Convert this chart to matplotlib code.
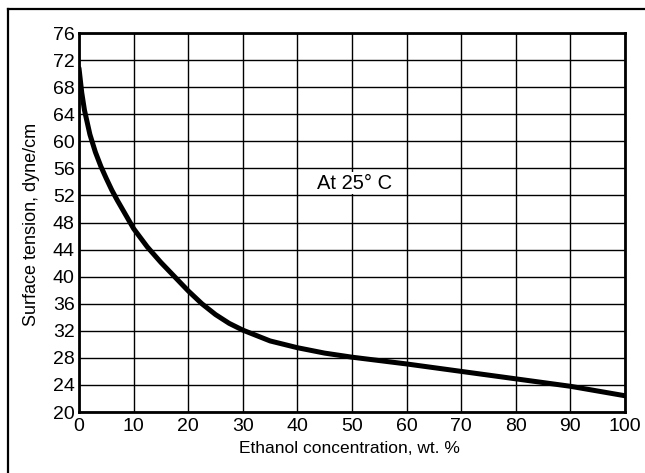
import matplotlib
matplotlib.use("Agg")
import matplotlib.pyplot as plt
from matplotlib.lines import Line2D

# Data
ethanol_wt = [0, 0.5, 1, 2, 3, 4, 5, 6, 7, 8, 10, 12.5, 15, 17.5, 20, 22.5, 25, 27.5,
              30, 35, 40, 45, 50, 60, 70, 80, 90, 100]
surface_tension = [70.8, 67.2, 64.6, 61.0, 58.4, 56.3, 54.5, 52.8, 51.3, 49.9, 47.1, 44.4,
                   42.1, 40.0, 37.9, 36.0, 34.4, 33.1, 32.1, 30.5, 29.5, 28.7, 28.1,
                   27.1, 26.0, 24.9, 23.8, 22.4]
x_ticks = list(range(0, 101, 10))
y_ticks = list(range(20, 77, 4))
annotation = "At 25° C"

plt.rcParams['font.family'] = ['Liberation Sans', 'DejaVu Sans']

fig = plt.figure(figsize=(6.45, 4.73), dpi=100)
ax = fig.add_axes([79/645, 1-412/473, (625-79)/645, (412-33)/473])

ax.set_xlim(0, 100)
ax.set_ylim(20, 76)
ax.set_xticks(x_ticks)
ax.set_yticks(y_ticks)
ax.grid(True, color='black', linewidth=1.0)
ax.set_axisbelow(True)
ax.tick_params(length=0, labelsize=14, pad=3)
ax.tick_params(axis='x', pad=4)
for s in ax.spines.values():
    s.set_linewidth(2.0)
    s.set_color('black')

ax.plot(ethanol_wt, surface_tension, color='black', linewidth=3.6,
        solid_capstyle='round', solid_joinstyle='round', zorder=3)

ax.text(50.4, 53.8, annotation, fontsize=14.5, ha='center', va='center',
        bbox=dict(facecolor='white', edgecolor='none', pad=1.0), zorder=4)

ax.set_xlabel("Ethanol concentration, wt. %", fontsize=12.5)
ax.set_ylabel("Surface tension, dyne/cm", fontsize=13)
ax.xaxis.set_label_coords(0.495, -0.076)
ax.yaxis.set_label_coords(-0.072, 0.495)

# Outer frame (top and left edges, as in the scan)
fig.add_artist(Line2D([8/645, 1.0], [1-9/473, 1-9/473], transform=fig.transFigure,
                      color='black', linewidth=1.6))
fig.add_artist(Line2D([8/645, 8/645], [0, 1-9/473], transform=fig.transFigure,
                      color='black', linewidth=1.6))

fig.savefig("out.png", dpi=100, facecolor='white')
